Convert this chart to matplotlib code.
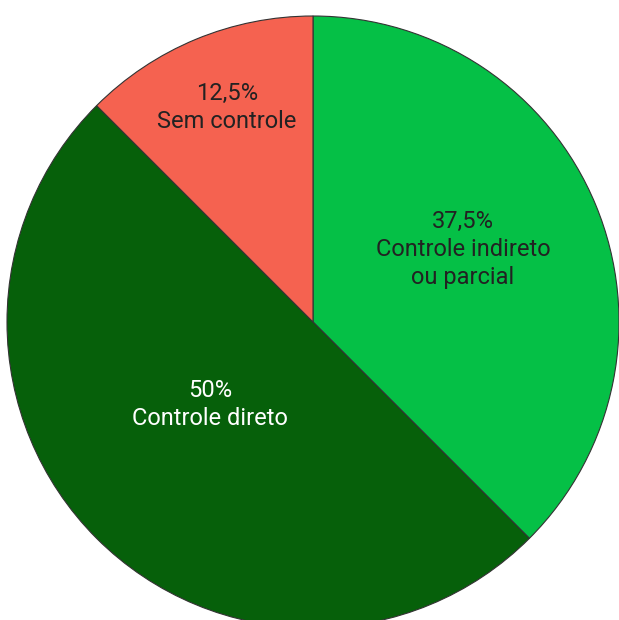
import matplotlib.pyplot as plt

# dados do gráfico
categorias = ['Controle indireto\nou parcial', 'Controle direto', 'Sem controle']
valores = [37.5, 50, 12.5]
rotulos_pct = ['37,5%', '50%', '12,5%']
cores = ['#05C046', '#06600A', '#F56250']
cores_texto = ['#222222', '#FFFFFF', '#222222']

# posições dos rótulos (coordenadas do eixo, raio = 1)
pos_rotulos = [(0.49, 0.236), (-0.337, -0.27), (-0.281, 0.70)]

plt.rcParams['font.family'] = ['Roboto', 'DejaVu Sans']

fig = plt.figure(figsize=(6.19, 6.20), dpi=100)
ax = fig.add_axes([0, 0, 1, 1])

r_px = 306
cx, cy = 313, 322
ax.pie(valores, colors=cores, startangle=90, counterclock=False,
       radius=1, center=(0, 0), frame=False,
       wedgeprops={'edgecolor': '#333333', 'linewidth': 0.8})

for (x, y), pct, cat, cor in zip(pos_rotulos, rotulos_pct, categorias, cores_texto):
    ax.text(x, y, f'{pct}\n{cat}', ha='center', va='center', fontsize=17,
            color=cor, linespacing=1.27)

ax.set_aspect('auto')
ax.set_xlim(-cx / r_px, (619 - cx) / r_px)
ax.set_ylim(-(620 - cy) / r_px, cy / r_px)
ax.axis('off')

fig.savefig('out.png', dpi=100)
